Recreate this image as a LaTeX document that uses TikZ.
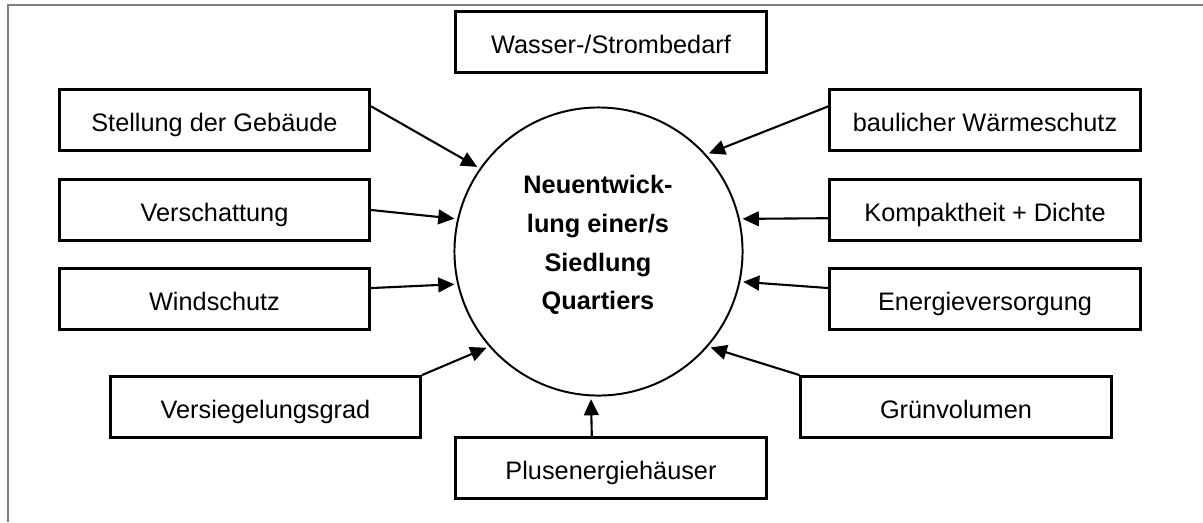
\documentclass[tikz,border=0pt]{standalone}
\usepackage{fontspec}
\setmainfont{Liberation Sans}
\usetikzlibrary{arrows.meta}

\begin{document}
\begin{tikzpicture}[
  x=0.025cm, y=-0.025cm,
  font=\fontsize{18}{22}\selectfont,
  factor/.style={draw, line width=1.9pt, minimum width=7.76cm,
                 minimum height=1.53cm, inner sep=0pt, align=center,
                 text height=17pt, text depth=1pt, fill=white},
  hub/.style={draw, circle, line width=1.4pt, minimum size=7.2cm, inner sep=0pt},
  arr/.style={-{Triangle[length=11.5pt,width=10.5pt]}, line width=1.5pt, shorten >=2pt},
]
\useasboundingbox (0,0) rectangle (1203,522);

% ---- frame ----
\draw[gray, line width=0.8pt] (8,522) -- (8,5) -- (1203,5);

% ---- centre ----
\node[hub] (siedlung) at (598.5,251.5) {};
\node[font=\bfseries\fontsize{18}{27.6}\selectfont, align=center] (siedlungtxt) at (598,245)
  {Neuentwick-\\lung einer/s\\Siedlung\\Quartiers};

% ---- top / bottom ----
\node[factor] (wasser) at (611,42)  {Wasser-/Strombedarf};
\node[factor] (plus)   at (611,468) {Plusenergieh\"auser};

% ---- left column ----
\node[factor] (gebaeude)     at (214.5,120) {Stellung der Geb\"aude};
\node[factor] (verschattung) at (214.5,210) {Verschattung};
\node[factor] (windschutz)   at (214.5,299) {Windschutz};
\node[factor] (versiegelung) at (265.5,407) {Versiegelungsgrad};

% ---- right column ----
\node[factor] (waerme)  at (985,120) {baulicher W\"armeschutz};
\node[factor] (kompakt) at (985,210) {Kompaktheit + Dichte};
\node[factor] (energie) at (985,299) {Energieversorgung};
\node[factor] (gruen)   at (956,407) {Gr\"unvolumen};

% Arrows into the circle
\foreach \a/\b in {gebaeude.5/145, verschattung.east/167, windschutz.4/193,
                   versiegelung.north east/221, plus.121/267}
  \draw[arr] (\a) -- (siedlung.\b);
\foreach \a/\b in {waerme.175/42, kompakt.183/13, energie.176/348,
                   gruen.north west/319}
  \draw[arr] (\a) -- (siedlung.\b);
\end{tikzpicture}
\end{document}
